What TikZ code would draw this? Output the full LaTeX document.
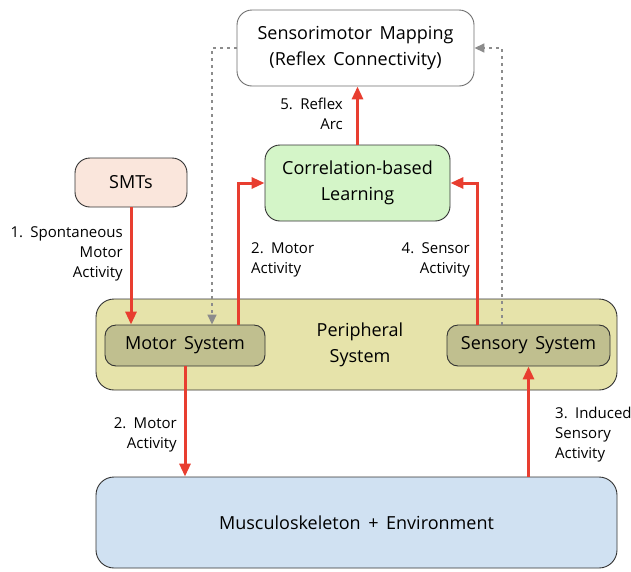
\documentclass[tikz,border=0pt]{standalone}
\usepackage{fontspec}
\setmainfont{Open Sans}
\usetikzlibrary{arrows.meta,calc}
\definecolor{redarr}{RGB}{232,62,48}
\definecolor{grayarr}{RGB}{140,140,140}
\definecolor{smborder}{RGB}{110,110,110}
\definecolor{greenfill}{RGB}{212,245,200}
\definecolor{smtsfill}{RGB}{250,230,220}
\definecolor{perfill}{RGB}{230,227,170}
\definecolor{innerfill}{RGB}{192,191,143}
\definecolor{muscfill}{RGB}{208,225,242}
\definecolor{boxborder}{RGB}{50,50,50}
\newcommand\myboxfont{\fontsize{18}{26}\selectfont\spaceskip=0.42em plus 0.1em\relax}
\newcommand\mylblfont{\fontsize{15}{20}\selectfont\spaceskip=0.4em plus 0.1em\relax}
\tikzset{
  box/.style={draw=boxborder, line width=0.9pt, rounded corners=15pt, align=center, inner sep=0pt, font=\myboxfont},
  redline/.style={draw=redarr, line width=3pt, -{Triangle[length=13pt,width=11pt]}},
  grayline/.style={draw=grayarr, line width=1.6pt, dash pattern=on 3pt off 4pt, -{Triangle[length=10pt,width=9pt]}},
  lbl/.style={font=\mylblfont, inner sep=0pt},
}
\begin{document}
\begin{tikzpicture}[x=1pt,y=-1pt]
\useasboundingbox (0,0) rectangle (631,571);
% boxes
\node[box, draw=smborder, fill=white, minimum width=237pt, minimum height=76pt] (sm) at (355.5,48) {Sensorimotor Mapping\\(Reflex Connectivity)};
\node[box, fill=greenfill, minimum width=185pt, minimum height=76pt] (corr) at (357.5,183) {Correlation-based\\Learning};
\node[box, fill=smtsfill, minimum width=112pt, minimum height=49pt] (smts) at (131,182.5) {SMTs};
\node[box, fill=perfill, rounded corners=18pt, minimum width=521pt, minimum height=91pt] (periph) at (356.5,344.5) {};
\node[box, fill=none, draw=none] (perlbl) at (360,345) {Peripheral\\System};
\node[box, fill=innerfill, rounded corners=11pt, minimum width=160pt, minimum height=41pt] (motor) at (185,345.5) {Motor System};
\node[box, fill=innerfill, rounded corners=11pt, minimum width=163pt, minimum height=41pt] (sensory) at (528.5,345.5) {Sensory System};
\node[box, fill=muscfill, rounded corners=18pt, minimum width=521pt, minimum height=91pt] (musc) at (356.5,522.5) {Musculoskeleton + Environment};
% labels
\node[lbl, align=right, anchor=north east] (l5) at (343,98) {5. Reflex\\Arc};
\node[lbl, align=right, anchor=north east] (l1) at (123,226) {1. Spontaneous\\Motor\\Activity};
\node[lbl, align=left, anchor=north west] (l2a) at (251,242) {2. Motor\\Activity};
\node[lbl, align=right, anchor=north east] (l4) at (470,242) {4. Sensor\\Activity};
\node[lbl, align=right, anchor=north east] (l2b) at (177,417) {2. Motor\\Activity};
\node[lbl, align=left, anchor=north west] (l3) at (555,407) {3. Induced\\Sensory\\Activity};
% connectors
\draw[redline] (smts.south) -- (smts.south |- motor.north);
\draw[redline] ([xshift=53pt]motor.north) |- (corr.west);
\draw[redline] ([xshift=-51.5pt]sensory.north) |- (corr.east);
\draw[redline] (corr.north) -- (corr.north |- sm.south);
\draw[redline] (motor.south) -- (motor.south |- musc.north);
\draw[redline] (sensory.south |- musc.north) -- (sensory.south);
\draw[grayline] (sm.west) -| ([xshift=27pt]motor.north);
\draw[grayline] ([xshift=-26.5pt]sensory.north) |- (sm.east);
\end{tikzpicture}
\end{document}
